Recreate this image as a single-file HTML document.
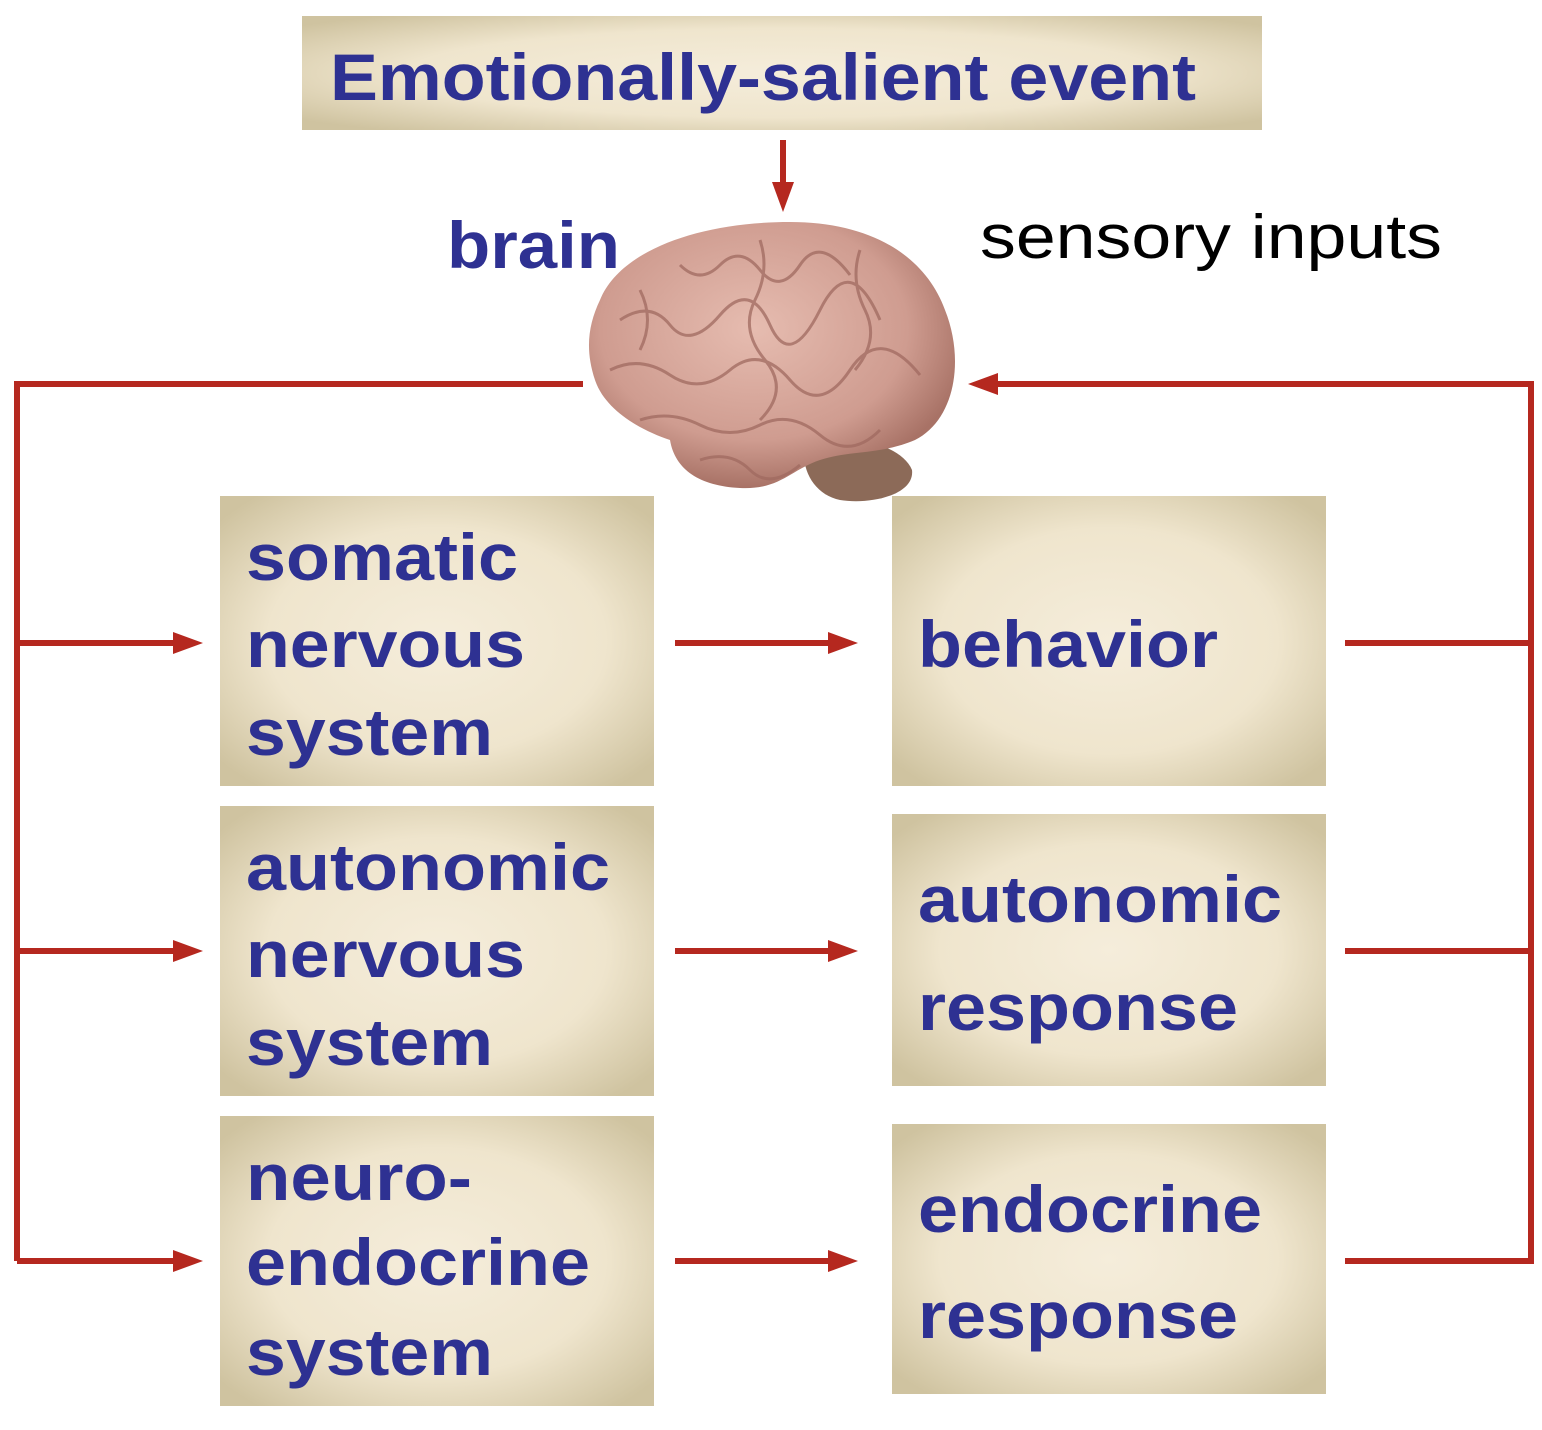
<!DOCTYPE html>
<html><head><meta charset="utf-8"><style>
html,body{margin:0;padding:0;background:#fff;}
svg{display:block;}
.t{font-family:"Liberation Sans",Arial,sans-serif;font-weight:bold;fill:#2e3192;font-size:66px;}
</style></head><body>
<svg width="1542" height="1430" viewBox="0 0 1542 1430">
<defs>
<radialGradient id="bg" cx="50%" cy="50%" r="65%">
<stop offset="0%" stop-color="#f5eddb"/><stop offset="60%" stop-color="#efe5cd"/><stop offset="100%" stop-color="#cfc3a0"/>
</radialGradient>
<radialGradient id="br" cx="45%" cy="40%" r="60%">
<stop offset="0%" stop-color="#e6bcb0"/><stop offset="70%" stop-color="#cf9c90"/><stop offset="100%" stop-color="#a87266"/>
</radialGradient>
</defs>

<rect x="302" y="16" width="960" height="114" fill="url(#bg)"/>
<text class="t" x="330" y="100" textLength="866" lengthAdjust="spacingAndGlyphs">Emotionally-salient event</text>

<g stroke="#b5281f" stroke-width="6" fill="none">
<line x1="783" y1="140" x2="783" y2="185"/>
<polyline points="583,384 17,384 17,1261"/>
<line x1="17" y1="643" x2="176" y2="643"/>
<line x1="17" y1="951" x2="176" y2="951"/>
<line x1="17" y1="1261" x2="176" y2="1261"/>
<line x1="675" y1="643" x2="831" y2="643"/>
<line x1="675" y1="951" x2="831" y2="951"/>
<line x1="675" y1="1261" x2="831" y2="1261"/>
<line x1="1345" y1="643" x2="1531" y2="643"/>
<line x1="1345" y1="951" x2="1531" y2="951"/>
<polyline points="1345,1261 1531,1261 1531,384 995,384"/>
</g>
<g fill="#b5281f">
<polygon points="772,182 794,182 783,212"/>
<polygon points="173,632 203,643 173,654"/>
<polygon points="173,940 203,951 173,962"/>
<polygon points="173,1250 203,1261 173,1272"/>
<polygon points="828,632 858,643 828,654"/>
<polygon points="828,940 858,951 828,962"/>
<polygon points="828,1250 858,1261 828,1272"/>
<polygon points="998,373 968,384 998,395"/>
</g>

<text class="t" x="447" y="268" textLength="173" lengthAdjust="spacingAndGlyphs">brain</text>
<text x="980" y="258" textLength="462" lengthAdjust="spacingAndGlyphs" style="font-family:'Liberation Sans',Arial,sans-serif;font-size:62px;fill:#000">sensory inputs</text>

<g>
<path d="M805,445 C830,430 900,440 912,470 C915,495 870,505 840,500 C815,495 800,470 805,445 Z" fill="#8c6a58"/>
<path d="M600,300 C620,250 700,222 790,222 C870,222 925,255 945,310 C965,360 955,420 915,440 C880,455 850,450 820,460 C790,470 780,490 740,488 C700,486 675,470 670,440 C640,430 605,410 595,380 C585,350 588,325 600,300 Z" fill="url(#br)"/>
<g stroke="#a06a60" stroke-width="3" fill="none" opacity="0.75">
<path d="M620,320 q30,-20 50,5 t50,-10 t50,10 t50,-15 t60,10"/>
<path d="M610,370 q30,-15 60,5 t60,-5 t60,10 t60,-10 t70,5"/>
<path d="M640,420 q30,-10 60,5 t60,0 t60,10 t60,-5"/>
<path d="M680,265 q20,20 40,0 t40,5 t40,-5 t50,10"/>
<path d="M700,460 q30,-10 50,10 t50,-5"/>
<path d="M760,240 q10,30 -5,60 t10,60 t-5,60"/>
<path d="M860,250 q-10,30 5,60 t-10,60"/>
<path d="M640,290 q15,30 0,60"/>
</g>
</g>

<g>
<rect x="220" y="496" width="434" height="290" fill="url(#bg)"/>
<rect x="220" y="806" width="434" height="290" fill="url(#bg)"/>
<rect x="220" y="1116" width="434" height="290" fill="url(#bg)"/>
</g>
<g>
<rect x="892" y="496" width="434" height="290" fill="url(#bg)"/>
<rect x="892" y="814" width="434" height="272" fill="url(#bg)"/>
<rect x="892" y="1124" width="434" height="270" fill="url(#bg)"/>
</g>

<text class="t" x="246" y="580" textLength="272" lengthAdjust="spacingAndGlyphs">somatic</text>
<text class="t" x="246" y="667" textLength="279" lengthAdjust="spacingAndGlyphs">nervous</text>
<text class="t" x="246" y="755" textLength="247" lengthAdjust="spacingAndGlyphs">system</text>

<text class="t" x="246" y="890" textLength="364" lengthAdjust="spacingAndGlyphs">autonomic</text>
<text class="t" x="246" y="977" textLength="279" lengthAdjust="spacingAndGlyphs">nervous</text>
<text class="t" x="246" y="1065" textLength="247" lengthAdjust="spacingAndGlyphs">system</text>

<text class="t" x="246" y="1200" textLength="226" lengthAdjust="spacingAndGlyphs">neuro-</text>
<text class="t" x="246" y="1285" textLength="344" lengthAdjust="spacingAndGlyphs">endocrine</text>
<text class="t" x="246" y="1375" textLength="247" lengthAdjust="spacingAndGlyphs">system</text>

<text class="t" x="918" y="667" textLength="300" lengthAdjust="spacingAndGlyphs">behavior</text>
<text class="t" x="918" y="922" textLength="364" lengthAdjust="spacingAndGlyphs">autonomic</text>
<text class="t" x="918" y="1030" textLength="320" lengthAdjust="spacingAndGlyphs">response</text>
<text class="t" x="918" y="1232" textLength="344" lengthAdjust="spacingAndGlyphs">endocrine</text>
<text class="t" x="918" y="1338" textLength="320" lengthAdjust="spacingAndGlyphs">response</text>
</svg>
</body></html>
